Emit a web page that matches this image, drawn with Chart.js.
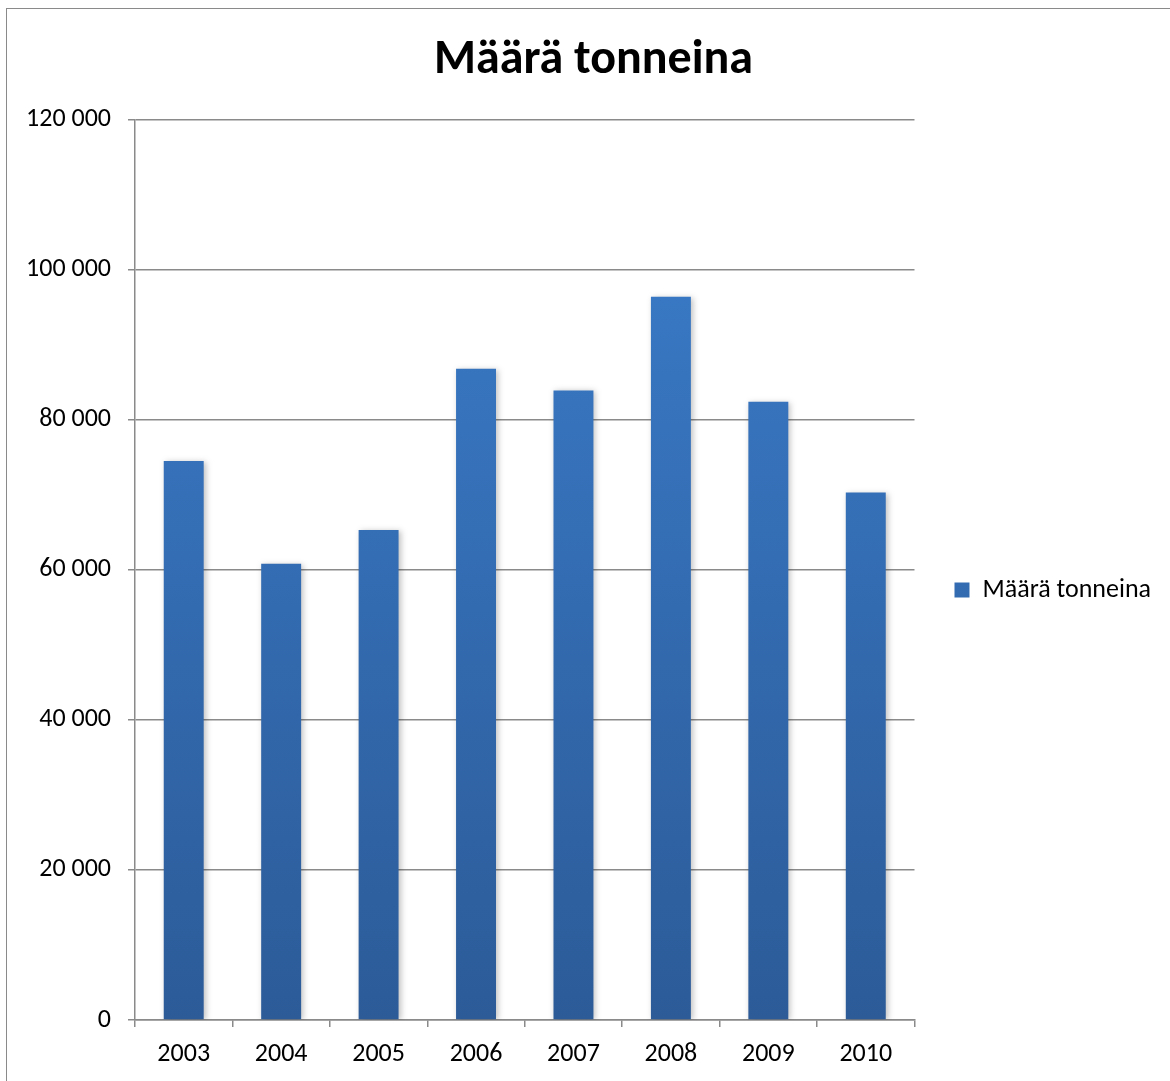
<!DOCTYPE html>
<html>
<head>
<meta charset="utf-8">
<script src="https://cdn.jsdelivr.net/npm/chart.js@4.4.0/dist/chart.umd.min.js"></script>
<style>
  body { margin: 0; background: #fff; }
  #wrap { position: relative; width: 1170px; height: 1081px; }
  #frame { position: absolute; left: 6px; top: 8px; width: 1170px; height: 1081px; border: 1px solid #8a8a8a; }
  canvas { position: absolute; left: 0; top: 0; }
</style>
</head>
<body>
<div id="wrap">
  <div id="frame"></div>
  <canvas id="chart" width="1170" height="1081"></canvas>
</div>
<script>
const years = ["2003", "2004", "2005", "2006", "2007", "2008", "2009", "2010"];
const amounts = [74500, 60800, 65300, 86800, 83900, 96400, 82400, 70300];
const seriesName = "Määrä tonneina";
const chartTitle = "Määrä tonneina";

const fontFamily = "Carlito, Lato, 'Open Sans', sans-serif";

// vertical gradient like the Excel bars
function barGradient(context) {
    const chart = context.chart;
    const area = chart.chartArea;
    if (!area) return "#3a7ccb";
    const g = chart.ctx.createLinearGradient(0, area.top, 0, area.bottom);
    g.addColorStop(0, "#3b7ecd");
    g.addColorStop(1, "#2c5b98");
    return g;
}

// soft shadow behind bars
const barShadow = {
    id: "barShadow",
    beforeDatasetsDraw(chart) {
        const ctx = chart.ctx;
        ctx.save();
        ctx.shadowColor = "rgba(0,0,0,0.25)";
        ctx.shadowBlur = 6;
        ctx.shadowOffsetX = 2;
        ctx.shadowOffsetY = 1;
    },
    afterDatasetsDraw(chart) {
        chart.ctx.restore();
    }
};

new Chart("chart", {
    type: "bar",
    data: {
        labels: years,
        datasets: [{
            label: seriesName,
            data: amounts,
            backgroundColor: barGradient,
            borderWidth: 0,
            categoryPercentage: 1,
            barPercentage: 0.41
        }]
    },
    plugins: [barShadow],
    options: {
        responsive: false,
        animation: false,
        layout: { padding: { top: 20, left: 26, right: 9, bottom: 11 } },
        plugins: {
            title: {
                display: true,
                text: chartTitle,
                color: "#000",
                font: { family: fontFamily, size: 48, weight: "bold" },
                padding: { top: 12, bottom: 30 }
            },
            legend: {
                position: "right",
                // empty title only pushes the legend item down a bit
                title: { display: true, text: " ", font: { size: 10 }, padding: { top: 39, bottom: 39 } },
                labels: {
                    color: "#000",
                    font: { family: fontFamily, size: 26 },
                    boxWidth: 15,
                    boxHeight: 15,
                    padding: 40
                }
            },
            tooltip: { enabled: false }
        },
        scales: {
            x: {
                grid: { display: true, drawOnChartArea: false, offset: true, color: "#8a8a8a", lineWidth: 1.5, tickLength: 7 },
                border: { color: "#8a8a8a", width: 1.5 },
                ticks: { color: "#000", font: { family: fontFamily, size: 26 }, padding: 12 },
                afterFit(scale) { scale.height = 50; }
            },
            y: {
                min: 0,
                max: 120000,
                ticks: {
                    stepSize: 20000,
                    color: "#000",
                    font: { family: fontFamily, size: 26 },
                    padding: 17,
                    callback: v => v.toLocaleString("fi-FI").replace(/\s/g, " ")
                },
                grid: { color: "#8a8a8a", lineWidth: 1.5, tickLength: 7 },
                border: { color: "#8a8a8a", width: 1.5 },
                afterFit(scale) { scale.width = 109; }
            }
        }
    }
});
</script>
</body>
</html>
